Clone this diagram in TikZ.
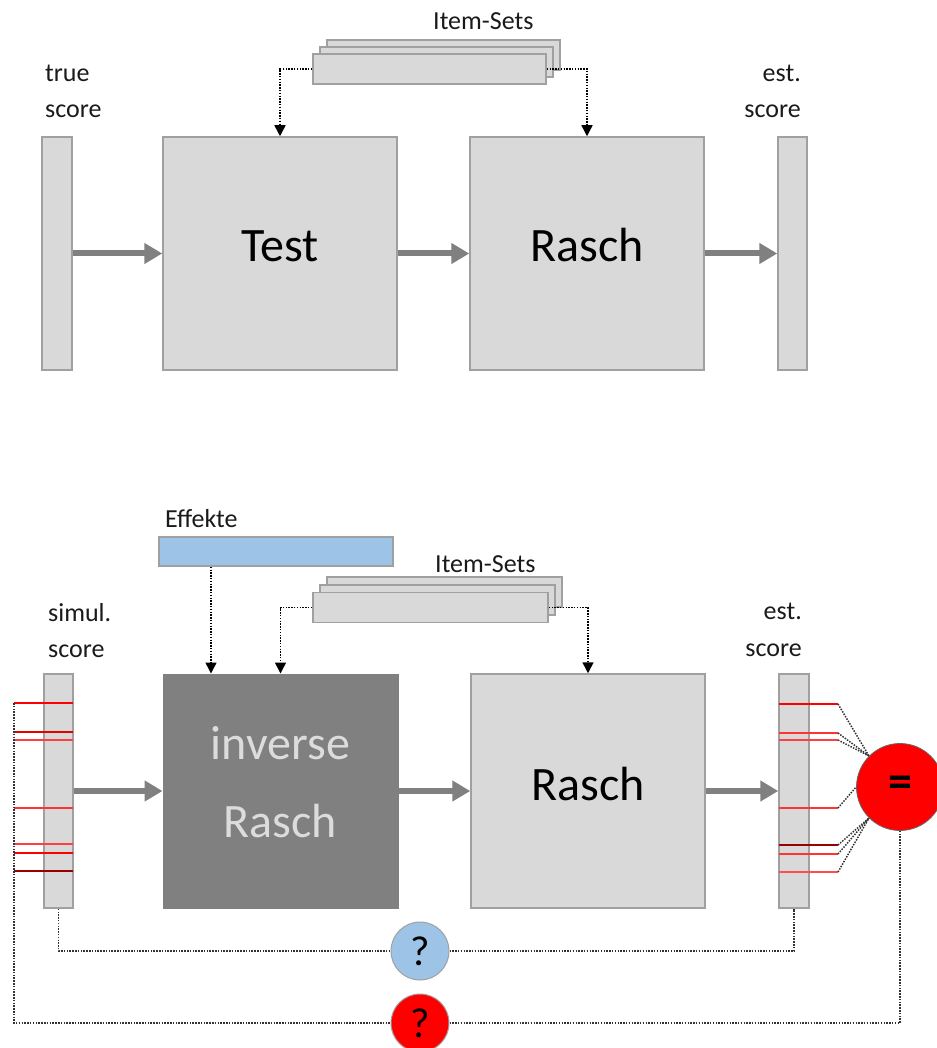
\documentclass[tikz,border=0pt]{standalone}
\usepackage{fontspec}
\setmainfont{Carlito}
\usetikzlibrary{arrows.meta}
\definecolor{boxfill}{HTML}{D9D9D9}
\definecolor{boxline}{HTML}{A0A0A0}
\definecolor{arrowgray}{HTML}{808080}
\definecolor{darkfill}{HTML}{808080}
\definecolor{bluefill}{HTML}{9DC3E6}
\definecolor{txt}{HTML}{1A1A1A}
\definecolor{invtxt}{HTML}{DCDCDC}
\newcommand\lblfont{\fontsize{26}{30}\selectfont}
\newcommand\bigfont{\fontsize{48}{56}\selectfont}
\begin{document}
\begin{tikzpicture}[x=1pt,y=-1pt,
  gbox/.style={draw=boxline, line width=1.5pt, fill=boxfill, inner sep=0pt},
  bigarrow/.style={draw=arrowgray, line width=6pt, -{Triangle[length=18pt,width=20pt]}},
  dotarrow/.style={draw=black, line width=1.5pt, dash pattern=on 1.5pt off 1.3pt, -{Triangle[length=11pt,width=11pt]}},
  dotline/.style={draw=black!80, line width=1.5pt, dash pattern=on 1.5pt off 1.3pt},
  redline/.style={line width=1.8pt},
  lbl/.style={font=\lblfont, text=txt, inner sep=0pt},
  big/.style={font=\bigfont, text=black, inner sep=0pt},
  qcirc/.style={circle, draw=boxline, line width=1pt, minimum size=58pt, inner sep=0pt, font=\fontsize{42}{46}\selectfont}
]
\useasboundingbox (0,0) rectangle (936,1048);

% ---------------- top part ----------------
\node[lbl, anchor=base west] (t1) at (45,82) {true};
\node[lbl, anchor=base west] (t2) at (45,118) {score};
\node[lbl, anchor=base east] (e1) at (801,82) {est.};
\node[lbl, anchor=base east] (e2) at (801,118) {score};
\node[lbl, anchor=base west] (is1) at (433,30) {Item-Sets};

\node[gbox, minimum width=30pt, minimum height=233pt] (truebar) at (57,253.5) {};
\node[gbox, minimum width=234pt, minimum height=233pt] (test) at (280,253.5) {};
\node[gbox, minimum width=234pt, minimum height=233pt] (rasch) at (587,253.5) {};
\node[gbox, minimum width=29pt, minimum height=233pt] (estbar) at (792.5,253.5) {};
\node[big, anchor=base] (testtxt) at (280,262) {Test};
\node[big, anchor=base] (raschtxt) at (587,262) {Rasch};

\node[gbox, minimum width=233pt, minimum height=30pt] (itC) at (443.5,55) {};
\node[gbox, minimum width=233pt, minimum height=30pt] (itB) at (436.5,62) {};
\node[gbox, minimum width=233pt, minimum height=30pt] (itA) at (429.5,69) {};

\draw[bigarrow] (truebar.east) -- (test.west);
\draw[bigarrow] (test.east) -- (rasch.west);
\draw[bigarrow] (rasch.east) -- (estbar.west);
\draw[dotarrow] (itA.west) -| (test.north);
\draw[dotarrow] (itA.east) -| (rasch.north);

% ---------------- bottom part ----------------
\node[lbl, anchor=base west] (eflbl) at (165,527) {Effekte};
\node[draw=boxline, line width=1.5pt, fill=bluefill, minimum width=234pt, minimum height=29pt, inner sep=0pt] (eff) at (276,551.5) {};
\node[lbl, anchor=base west] (is2) at (435,572) {Item-Sets};
\node[gbox, minimum width=235pt, minimum height=30pt] (jtC) at (444.5,592) {};
\node[gbox, minimum width=235pt, minimum height=30pt] (jtB) at (437.5,600) {};
\node[gbox, minimum width=235pt, minimum height=30pt] (jtA) at (430.5,607.5) {};

\node[lbl, anchor=base west] (s1) at (48,621) {simul.};
\node[lbl, anchor=base west] (s2) at (48,657) {score};
\node[lbl, anchor=base east] (f1) at (802,619) {est.};
\node[lbl, anchor=base east] (f2) at (802,656) {score};

\node[gbox, minimum width=29pt, minimum height=234pt] (simbar) at (58.5,791) {};
\node[draw=darkfill, fill=darkfill, line width=1pt, minimum width=235pt, minimum height=234pt, inner sep=0pt] (inv) at (280.5,791) {};
\node[gbox, minimum width=234pt, minimum height=234pt] (rasch2) at (588,791) {};
\node[gbox, minimum width=30pt, minimum height=234pt] (estbar2) at (794,791) {};
\node[big, anchor=base, text=invtxt] (invtxt1) at (280.5,759) {inverse};
\node[big, anchor=base, text=invtxt] (invtxt2) at (280.5,837) {Rasch};
\node[big, anchor=base] (rasch2txt) at (588,800) {Rasch};

\draw[bigarrow] (simbar.east) -- (inv.west);
\draw[bigarrow] (inv.east) -- (rasch2.west);
\draw[bigarrow] (rasch2.east) -- (estbar2.west);
\draw[dotarrow] ([xshift=-65pt]eff.south) -- ([xshift=-65pt]eff.south |- inv.north);
\draw[dotarrow] (jtA.west) -| (inv.north);
\draw[dotarrow] (jtA.east) -| (rasch2.north);

% equality circle
\node[circle, draw=black!60, line width=0.8pt, fill=red, minimum size=87pt, inner sep=0pt,
      font=\fontsize{48}{52}\selectfont\bfseries] (eq) at (900,787) {=};

% red marks on simulated scores
\foreach \y/\c [count=\i] in {703/red, 732/red!90!black, 740/red!75, 808/red!80, 844/red!75, 853/red, 871/red!60!black}{
  \draw[redline, draw=\c] (14,\y) coordinate (l\i) -- (73,\y);
}
% red marks on estimated scores, linked to the equality circle
\foreach \y/\a/\c [count=\i] in {704/135/red, 733/135/red!80, 740/135/red!75, 808/180/red!80, 845/-135/red!60!black, 854/-135/red!80, 872/-135/red!70}{
  \draw[redline, draw=\c] (779,\y) -- (838,\y) coordinate (r\i);
  \draw[dotline] (r\i) -- (eq.\a);
}

% question circles
\node[qcirc, fill=bluefill] (qb) at (420,951) {?};
\node[qcirc, fill=red] (qr) at (420,1023) {?};

\draw[dotline] (simbar.south) |- (qb.west);
\draw[dotline] (qb.east) -| (estbar2.south);
\draw[dotline] (l1) |- (qr.west);
\draw[dotline] (qr.east) -| (eq.south);
\end{tikzpicture}
\end{document}
